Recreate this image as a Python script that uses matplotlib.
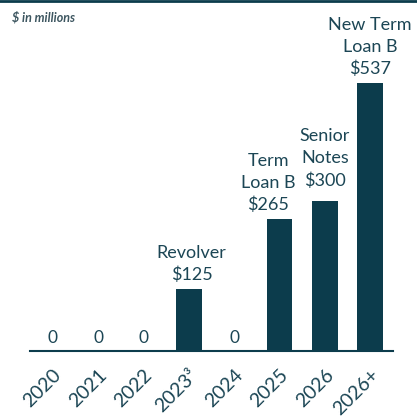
import matplotlib.pyplot as plt
from matplotlib.lines import Line2D

years = ["2020", "2021", "2022", "2023³", "2024", "2025", "2026", "2026+"]
amounts = [0, 0, 0, 125, 0, 265, 300, 537]
names = ["", "", "", "Revolver", "", "Term\nLoan B", "Senior\nNotes", "New Term\nLoan B"]

# label nudges in points (x, y)
nudges = [(0, 4), (0, 4), (0, 4), (2, 4), (0, 4), (-8, 4), (0, 9), (0, 4)]

teal = "#0c3c4c"
text_teal = "#1c4655"

plt.rcParams["font.family"] = ["Lato", "DejaVu Sans"]

fig = plt.figure(figsize=(4.17, 4.18), dpi=100)
ax = fig.add_axes([0.072, 0.160, 0.870, 0.816])

x = range(len(years))
bars = ax.bar(x, amounts, width=0.57, color=teal)

for i, (amt, name) in enumerate(zip(amounts, names)):
    if amt == 0:
        ax.annotate("0", (i, 0), xytext=(0, 4), textcoords="offset points",
                    ha="center", va="bottom", fontsize=12.5, color=text_teal)
    else:
        ax.annotate(name + "\n$" + str(amt), (i, amt), xytext=nudges[i],
                    textcoords="offset points", ha="center", va="bottom",
                    fontsize=13, color=text_teal, linespacing=1.45)

ax.set_xlim(-0.5, len(years) - 0.5)
ax.set_ylim(0, 683)
ax.set_yticks([])
ax.set_xticks(list(x))
ax.set_xticklabels(years, rotation=45, ha="right", rotation_mode="anchor",
                   fontsize=14, color=text_teal)
ax.tick_params(axis="x", length=0, pad=11)
for side in ["top", "right", "left"]:
    ax.spines[side].set_visible(False)
ax.spines["bottom"].set_color(teal)
ax.spines["bottom"].set_linewidth(1.5)

fig.text(0.029, 0.958, "\\$ in millions", fontsize=9, style="italic",
         fontweight="bold", color="#3d5660", va="center")
fig.add_artist(Line2D([0, 1], [0.997, 0.997], color=teal, lw=2,
                      transform=fig.transFigure))

fig.savefig("out.png", dpi=100)
